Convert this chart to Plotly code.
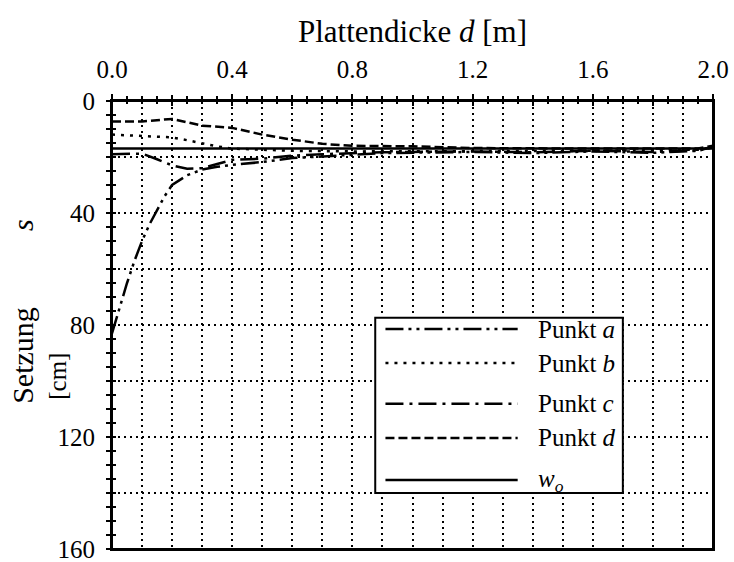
import plotly.graph_objects as go

# ---------------- data ----------------
a_x = [0.0, 0.025, 0.05, 0.075, 0.1, 0.125, 0.15, 0.175, 0.2, 0.25, 0.3, 0.35, 0.4, 0.5, 0.6, 0.7, 0.8, 0.9, 1.0, 1.2, 1.4, 1.6, 1.8, 1.95, 2.0]
a_s = [83.0, 74.0, 65.0, 57.0, 50.0, 44.0, 39.0, 34.0, 30.0, 26.5, 24.5, 23.5, 22.8, 21.8, 20.4, 19.7, 19.2, 18.6, 18.4, 18.2, 18.6, 18.0, 18.5, 17.8, 16.5]

b_x = [0.0, 0.1, 0.2, 0.25, 0.3, 0.35, 0.4, 0.5, 0.6, 0.8, 1.0, 1.2, 1.4, 1.6, 1.8, 1.95, 2.0]
b_s = [12.0, 12.4, 13.0, 14.0, 15.2, 16.2, 17.0, 17.5, 17.8, 18.0, 18.0, 18.0, 18.0, 17.8, 17.6, 17.4, 16.5]

c_x = [0.0, 0.05, 0.1, 0.15, 0.2, 0.25, 0.3, 0.35, 0.4, 0.5, 0.6, 0.7, 0.8, 0.9, 1.0, 1.2, 1.4, 1.6, 1.8, 1.95, 2.0]
c_s = [19.0, 19.0, 18.8, 20.8, 23.0, 24.2, 24.0, 22.5, 21.0, 20.6, 19.5, 19.0, 18.6, 18.3, 18.2, 18.0, 18.3, 17.8, 18.2, 17.6, 16.5]

d_x = [0.0, 0.1, 0.2, 0.3, 0.4, 0.5, 0.6, 0.7, 0.8, 0.9, 1.0, 1.2, 1.4, 1.6, 1.8, 1.95, 2.0]
d_s = [7.3, 7.3, 6.4, 8.8, 9.6, 12.0, 13.8, 15.3, 16.0, 16.0, 16.2, 16.8, 17.0, 17.0, 17.0, 17.0, 16.0]

wo_x = [0.0, 2.0]
wo_s = [17.0, 17.0]

series_names = ["Punkt <i>a</i>", "Punkt <i>b</i>", "Punkt <i>c</i>", "Punkt <i>d</i>", "<i>w</i><sub><i>o</i></sub>"]
series_dash = ["18px,5px,3px,5px,3px,5px", "3px,6px", "18px,6px,3px,6px", "9px,4px", "solid"]

x_labelvals = [0.0, 0.4, 0.8, 1.2, 1.6, 2.0]
x_labeltext = ["0.0", "0.4", "0.8", "1.2", "1.6", "2.0"]
x_majorvals = [0.0, 0.2, 0.4, 0.6, 0.8, 1.0, 1.2, 1.4, 1.6, 1.8, 2.0]
y_tickvals = [0, 40, 80, 120, 160]
y_ticktext = ["0", "40", "80", "120", "160"]

FONT = "Liberation Serif"

fig = go.Figure()
xs = [a_x, b_x, c_x, d_x, wo_x]
ys = [a_s, b_s, c_s, d_s, wo_s]
for xv, yv, name, dash in zip(xs, ys, series_names, series_dash):
    fig.add_trace(go.Scatter(x=xv, y=yv, mode="lines", name=name, showlegend=False,
                             line=dict(color="black", width=2.5, dash=dash)))

# ---------------- axes ----------------
common_x = dict(range=[0, 2], zeroline=False, automargin=False)
common_y = dict(range=[160, 0], zeroline=False, automargin=False)
grid = dict(showgrid=True, gridcolor="black", gridwidth=2, griddash="2px,4px")

fig.update_layout(
    width=734, height=562,
    margin=dict(l=112, r=21, t=101, b=13, autoexpand=False),
    paper_bgcolor="white", plot_bgcolor="white",
    font=dict(family=FONT, size=25, color="black"),
    xaxis=dict(**common_x, side="top", showgrid=False, showline=True, linecolor="black",
               linewidth=2, mirror=True, ticklabeloverflow="allow",
               tickmode="array", tickvals=x_labelvals, ticktext=x_labeltext,
               ticks="outside", ticklen=5, tickwidth=2, tickcolor="black",
               ticklabelstandoff=6,
               tickfont=dict(family=FONT, size=25),
               minor=dict(dtick=0.05, tick0=0, ticks="outside", ticklen=3, tickwidth=1.5,
                          tickcolor="black", showgrid=False)),
    xaxis2=dict(**common_x, overlaying="x", side="top", anchor="y", showline=False,
                showgrid=False, tickmode="array", tickvals=x_majorvals, showticklabels=False,
                ticks="outside", ticklen=5, tickwidth=2, tickcolor="black",
                minor=dict(dtick=0.05, tick0=0, ticks="inside", ticklen=3, tickwidth=1.5,
                           tickcolor="black", showgrid=False)),
    xaxis3=dict(**common_x, **grid, overlaying="x", side="top", anchor="y", showline=False,
                showticklabels=False, tickmode="linear", dtick=0.2, tick0=0,
                ticks="inside", ticklen=5, tickwidth=2, tickcolor="black",
                minor=dict(dtick=0.1, tick0=0, ticks="", showgrid=True, gridcolor="black",
                           gridwidth=2, griddash="2px,4px")),
    yaxis=dict(**common_y, showgrid=False, showline=True, linecolor="black", linewidth=2,
               mirror=True, ticklabeloverflow="allow",
               tickmode="array", tickvals=y_tickvals, ticktext=y_ticktext,
               ticks="outside", ticklen=4, tickwidth=2, tickcolor="black",
               ticklabelstandoff=6,
               tickfont=dict(family=FONT, size=25),
               minor=dict(dtick=5, tick0=0, ticks="outside", ticklen=4, tickwidth=1.5,
                          tickcolor="black", showgrid=False)),
    yaxis2=dict(**common_y, showgrid=False, overlaying="y", side="left", anchor="x",
                showline=False, showticklabels=False, tickmode="linear", dtick=5, tick0=0,
                ticks="inside", ticklen=4, tickwidth=1.5, tickcolor="black"),
    yaxis3=dict(**common_y, **grid, overlaying="y", side="left", anchor="x", showline=False,
                showticklabels=False, ticks="", tickmode="linear", dtick=20, tick0=0),
)

# invisible helpers so the overlay axes are realised
fig.add_trace(go.Scatter(x=[None], y=[None], xaxis="x2", yaxis="y2", showlegend=False, hoverinfo="skip"))
fig.add_trace(go.Scatter(x=[None], y=[None], xaxis="x3", yaxis="y3", showlegend=False, hoverinfo="skip"))

# frame around the plotting area
fig.add_shape(type="rect", xref="paper", yref="paper", x0=0, x1=1, y0=0, y1=1,
              layer="above", line=dict(color="black", width=2), fillcolor="rgba(0,0,0,0)")

# ---------------- titles ----------------
fig.add_annotation(text="Plattendicke <i>d</i> [m]", xref="paper", yref="paper", x=0.5, y=1.155,
                   xanchor="center", yanchor="middle", showarrow=False, font=dict(family=FONT, size=31))
fig.add_annotation(text="Setzung", xref="paper", yref="paper", x=-0.15, y=0.433, textangle=-90,
                   xanchor="center", yanchor="middle", showarrow=False, font=dict(family=FONT, size=30))
fig.add_annotation(text="[cm]", xref="paper", yref="paper", x=-0.092, y=0.386, textangle=-90,
                   xanchor="center", yanchor="middle", showarrow=False, font=dict(family=FONT, size=25))
fig.add_annotation(text="<i>s</i>", xref="paper", yref="paper", x=-0.15, y=0.723, textangle=-90,
                   xanchor="center", yanchor="middle", showarrow=False, font=dict(family=FONT, size=30))

# ---------------- legend (drawn box) ----------------
leg_box = dict(x0=0.438, x1=0.85, y0=0.125, y1=0.516)
fig.add_shape(type="rect", xref="paper", yref="paper", layer="above",
              line=dict(color="black", width=2), fillcolor="white", **leg_box)
leg_rows = [0.491, 0.415, 0.324, 0.248, 0.154]
for yy, name, dash in zip(leg_rows, series_names, series_dash):
    fig.add_shape(type="line", xref="paper", yref="paper", layer="above",
                  x0=0.455, x1=0.675, y0=yy, y1=yy, line=dict(color="black", width=2.5, dash=dash))
    fig.add_annotation(text=name, xref="paper", yref="paper", x=0.705, y=yy,
                       xanchor="left", yanchor="middle", showarrow=False,
                       font=dict(family=FONT, size=25))

fig.write_html("out.html")
